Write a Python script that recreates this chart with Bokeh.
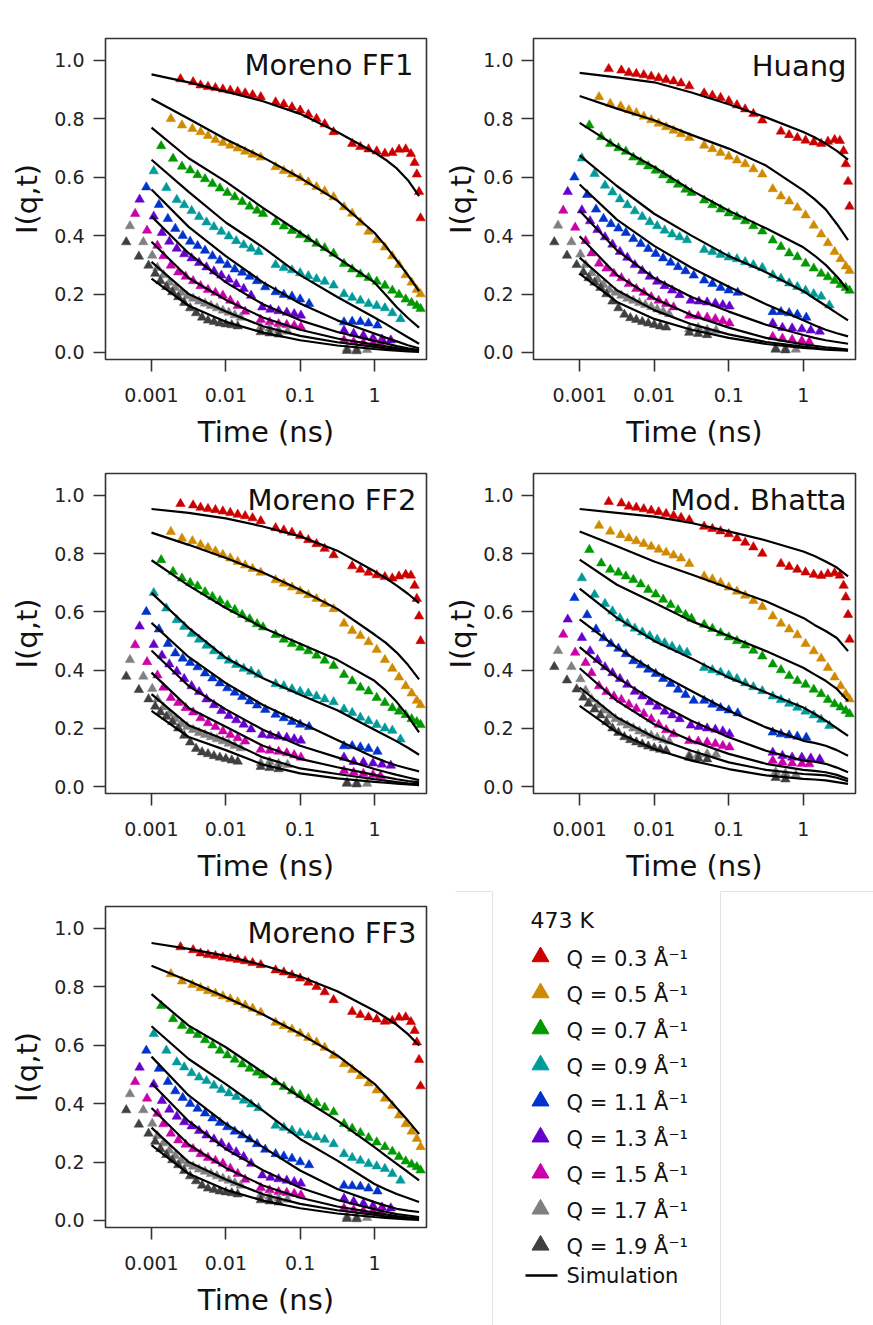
import numpy as np
from bokeh.plotting import figure
from bokeh.layouts import column, row
from bokeh.models import Range1d, FixedTicker, CustomJSTickFormatter, PrintfTickFormatter, Label
from bokeh.core.properties import value
from bokeh.embed import file_html
from bokeh.resources import INLINE

FONT = "DejaVu Sans"

Q_VALUES = ["0.3", "0.5", "0.7", "0.9", "1.1", "1.3", "1.5", "1.7", "1.9"]
Q_COLORS = ["#cc0000", "#d08a00", "#009900", "#009a9a", "#0033cc",
            "#6600cc", "#cc00aa", "#808080", "#404040"]

X_TICKS = [0.001, 0.01, 0.1, 1]
Y_TICKS = [0.0, 0.2, 0.4, 0.6, 0.8, 1.0]

# ---------------- experimental time points, log10(t / ns), per Q ----------------
LOGT_Q03 = [-2.61, -2.44, -2.34, -2.24, -2.14, -2.04, -1.94, -1.84, -1.74, -1.64, -1.53,
            -1.33, -1.22, -1.11, -1.0, -0.89, -0.78, -0.67, -0.55,
            -0.30, -0.19, -0.08, 0.03, 0.14, 0.24, 0.33, 0.42, 0.49, 0.54, 0.57, 0.60, 0.62]
LOGT_Q05 = [-2.74, -2.59, -2.45, -2.34, -2.24, -2.14, -2.04, -1.94, -1.84, -1.74, -1.64, -1.53,
            -1.33, -1.22, -1.11, -1.0, -0.89, -0.78, -0.67, -0.55,
            -0.41, -0.30, -0.19, -0.08, 0.03, 0.14, 0.24, 0.33, 0.42, 0.50, 0.57, 0.62]
LOGT_Q07 = [-2.87, -2.71, -2.59, -2.48, -2.38, -2.28, -2.18, -2.08, -1.98, -1.88, -1.78, -1.68, -1.58, -1.50,
            -1.33, -1.22, -1.11, -1.0, -0.89, -0.78, -0.67, -0.55,
            -0.41, -0.30, -0.19, -0.08, 0.03, 0.14, 0.24, 0.33, 0.42, 0.50, 0.57, 0.62]
LOGT_Q09 = [-2.97, -2.80, -2.66, -2.56, -2.46, -2.36, -2.26, -2.16, -2.06, -1.96, -1.86, -1.76, -1.66, -1.56,
            -1.33, -1.22, -1.11, -1.0, -0.89, -0.78, -0.67, -0.55,
            -0.41, -0.30, -0.19, -0.08, 0.03, 0.14, 0.24, 0.35]
LOGT_Q11 = [-3.07, -2.90, -2.78, -2.68, -2.58, -2.48, -2.38, -2.28, -2.18, -2.08, -1.98, -1.88, -1.78, -1.68, -1.58, -1.47,
            -1.33, -1.22, -1.11, -1.0, -0.88,
            -0.41, -0.30, -0.19, -0.08, 0.04]
LOGT_Q13 = [-3.16, -2.97, -2.86, -2.76, -2.66, -2.56, -2.46, -2.36, -2.26, -2.16, -2.06, -1.96, -1.86, -1.76, -1.66,
            -1.51, -1.40, -1.29, -1.18, -1.08, -0.99,
            -0.41, -0.28, -0.15, -0.02, 0.10, 0.22]
LOGT_Q15 = [-3.22, -3.06, -2.92, -2.84, -2.74, -2.64, -2.54, -2.44, -2.34, -2.24, -2.14, -2.04, -1.94, -1.84, -1.74,
            -1.53, -1.41, -1.29, -1.18, -1.08, -0.99,
            -0.41, -0.28, -0.15, -0.02, 0.08]
LOGT_Q17 = [-3.29, -3.11, -2.99, -2.92, -2.84, -2.76, -2.68, -2.60, -2.52, -2.44, -2.36, -2.28, -2.20, -2.12, -2.04,
            -1.96, -1.88, -1.80,
            -1.53, -1.41, -1.29, -1.17,
            -0.37, -0.24, -0.10]
LOGT_Q19 = [-3.34, -3.17, -3.04, -2.95, -2.88, -2.80, -2.72, -2.64, -2.56, -2.48, -2.40, -2.32, -2.24, -2.16, -2.08,
            -2.00, -1.92, -1.84,
            -1.53, -1.41, -1.29,
            -0.37, -0.24]

# simulation time points, log10(t / ns)
SIM_LOGT = [-3.0, -2.5, -2.0, -1.5, -1.0, -0.5, 0.0, 0.15, 0.3, 0.45, 0.6]

# ---------------- experiment, Moreno FF1 panel ----------------
FF1_Q03 = [0.936, 0.926, 0.915, 0.910, 0.906, 0.901, 0.897, 0.893, 0.888, 0.882, 0.875,
           0.857, 0.850, 0.840, 0.829, 0.815, 0.800, 0.782, 0.755,
           0.715, 0.704, 0.696, 0.689, 0.681, 0.684, 0.695, 0.696, 0.680, 0.650, 0.610, 0.550, 0.460]
FF1_Q05 = [0.800, 0.778, 0.766, 0.755, 0.742, 0.728, 0.718, 0.709, 0.699, 0.688, 0.678, 0.668,
           0.635, 0.622, 0.610, 0.597, 0.583, 0.567, 0.552, 0.532,
           0.498, 0.476, 0.445, 0.414, 0.385, 0.360, 0.330, 0.300, 0.265, 0.240, 0.215, 0.200]
FF1_Q07 = [0.707, 0.664, 0.637, 0.624, 0.608, 0.594, 0.578, 0.562, 0.547, 0.532, 0.516, 0.500, 0.486, 0.475,
           0.447, 0.432, 0.417, 0.402, 0.388, 0.373, 0.358, 0.339,
           0.304, 0.285, 0.268, 0.256, 0.243, 0.229, 0.212, 0.198, 0.182, 0.170, 0.160, 0.150]
FF1_Q09 = [0.621, 0.564, 0.523, 0.505, 0.485, 0.465, 0.446, 0.430, 0.414, 0.398, 0.382, 0.368, 0.356, 0.345,
           0.300, 0.290, 0.282, 0.272, 0.262, 0.252, 0.243, 0.230,
           0.200, 0.188, 0.178, 0.167, 0.160, 0.152, 0.135, 0.115]
FF1_Q11 = [0.566, 0.506, 0.458, 0.424, 0.400, 0.380, 0.365, 0.349, 0.330, 0.315, 0.300, 0.285, 0.274, 0.260, 0.245, 0.224,
           0.207, 0.198, 0.192, 0.182, 0.167,
           0.104, 0.106, 0.105, 0.100, 0.093]
FF1_Q13 = [0.524, 0.466, 0.410, 0.380, 0.356, 0.337, 0.323, 0.307, 0.292, 0.278, 0.264, 0.250, 0.234, 0.218, 0.195,
           0.155, 0.147, 0.142, 0.137, 0.132, 0.127,
           0.075, 0.065, 0.058, 0.050, 0.045, 0.042]
FF1_Q15 = [0.475, 0.418, 0.366, 0.330, 0.298, 0.275, 0.260, 0.245, 0.228, 0.215, 0.205, 0.195, 0.178, 0.160, 0.140,
           0.112, 0.104, 0.098, 0.095, 0.092, 0.087,
           0.042, 0.036, 0.033, 0.032, 0.031]
FF1_Q17 = [0.433, 0.378, 0.332, 0.290, 0.265, 0.240, 0.222, 0.205, 0.193, 0.185, 0.175, 0.168, 0.160, 0.152, 0.144,
           0.137, 0.128, 0.120,
           0.087, 0.082, 0.076, 0.072,
           0.013, 0.010, 0.009]
FF1_Q19 = [0.378, 0.329, 0.298, 0.270, 0.245, 0.225, 0.207, 0.190, 0.170, 0.152, 0.135, 0.120, 0.110, 0.105, 0.100,
           0.097, 0.094, 0.090,
           0.070, 0.066, 0.062,
           0.006, 0.005]

# ---------------- experiment, Huang panel (same normalisation shown in Moreno FF2) ----------------
HUANG_Q03 = [0.971, 0.966, 0.958, 0.954, 0.950, 0.945, 0.940, 0.934, 0.929, 0.922, 0.912,
             0.888, 0.880, 0.872, 0.861, 0.847, 0.833, 0.817, 0.795,
             0.757, 0.745, 0.735, 0.726, 0.720, 0.715, 0.722, 0.728, 0.725, 0.690, 0.645, 0.585, 0.500]
HUANG_Q05 = [0.875, 0.852, 0.843, 0.830, 0.820, 0.808, 0.796, 0.784, 0.772, 0.760, 0.748, 0.735,
             0.709, 0.697, 0.684, 0.671, 0.658, 0.645, 0.628, 0.610,
             0.560, 0.535, 0.518, 0.496, 0.470, 0.435, 0.405, 0.375, 0.345, 0.320, 0.295, 0.280]
HUANG_Q07 = [0.778, 0.738, 0.715, 0.700, 0.688, 0.668, 0.652, 0.638, 0.623, 0.607, 0.590, 0.575, 0.558, 0.547,
             0.521, 0.505, 0.490, 0.477, 0.465, 0.450, 0.433, 0.415,
             0.384, 0.362, 0.340, 0.327, 0.305, 0.288, 0.270, 0.258, 0.246, 0.232, 0.222, 0.212]
HUANG_Q09 = [0.665, 0.612, 0.572, 0.549, 0.525, 0.505, 0.484, 0.465, 0.447, 0.433, 0.418, 0.405, 0.395, 0.385,
             0.352, 0.345, 0.335, 0.326, 0.320, 0.310, 0.300, 0.290,
             0.265, 0.253, 0.237, 0.225, 0.212, 0.200, 0.192, 0.162]
HUANG_Q11 = [0.600, 0.540, 0.490, 0.458, 0.440, 0.425, 0.410, 0.389, 0.372, 0.355, 0.338, 0.323, 0.308, 0.293, 0.279, 0.264,
             0.247, 0.235, 0.222, 0.213, 0.205,
             0.139, 0.139, 0.135, 0.130, 0.120]
HUANG_Q13 = [0.550, 0.487, 0.450, 0.420, 0.395, 0.370, 0.345, 0.325, 0.300, 0.280, 0.260, 0.243, 0.228, 0.213, 0.197,
             0.178, 0.175, 0.172, 0.168, 0.163, 0.158,
             0.100, 0.085, 0.083, 0.080, 0.076, 0.072]
HUANG_Q15 = [0.486, 0.428, 0.382, 0.340, 0.305, 0.288, 0.270, 0.255, 0.235, 0.218, 0.205, 0.190, 0.178, 0.167, 0.155,
             0.127, 0.124, 0.120, 0.115, 0.108, 0.100,
             0.054, 0.048, 0.044, 0.040, 0.036]
HUANG_Q17 = [0.435, 0.378, 0.336, 0.300, 0.272, 0.250, 0.232, 0.215, 0.205, 0.195, 0.185, 0.178, 0.170, 0.163, 0.156,
             0.148, 0.140, 0.132,
             0.080, 0.085, 0.078, 0.075,
             0.014, 0.012, 0.010]
HUANG_Q19 = [0.378, 0.332, 0.300, 0.275, 0.255, 0.240, 0.222, 0.200, 0.175, 0.152, 0.130, 0.118, 0.112, 0.105, 0.100,
             0.095, 0.090, 0.086,
             0.068, 0.064, 0.060,
             0.010, 0.008]

# ---------------- experiment, Mod. Bhatta panel ----------------
BHATTA_Q03 = [0.978, 0.973, 0.962, 0.958, 0.953, 0.948, 0.943, 0.937, 0.930, 0.923, 0.915,
              0.893, 0.885, 0.877, 0.867, 0.853, 0.838, 0.822, 0.800,
              0.765, 0.755, 0.745, 0.736, 0.728, 0.724, 0.730, 0.733, 0.725, 0.690, 0.650, 0.590, 0.505]
BHATTA_Q05 = [0.896, 0.876, 0.864, 0.853, 0.843, 0.834, 0.824, 0.814, 0.804, 0.794, 0.784, 0.765,
              0.722, 0.712, 0.700, 0.684, 0.670, 0.656, 0.638, 0.617,
              0.585, 0.560, 0.540, 0.520, 0.490, 0.465, 0.440, 0.408, 0.375, 0.345, 0.318, 0.300]
BHATTA_Q07 = [0.813, 0.767, 0.745, 0.735, 0.722, 0.710, 0.695, 0.676, 0.660, 0.642, 0.624, 0.606, 0.590, 0.577,
              0.556, 0.542, 0.527, 0.513, 0.500, 0.485, 0.467, 0.447,
              0.420, 0.400, 0.380, 0.363, 0.350, 0.333, 0.318, 0.298, 0.283, 0.272, 0.260, 0.249]
BHATTA_Q09 = [0.716, 0.659, 0.628, 0.602, 0.578, 0.560, 0.543, 0.530, 0.517, 0.505, 0.493, 0.481, 0.470, 0.460,
              0.408, 0.400, 0.392, 0.382, 0.370, 0.355, 0.342, 0.328,
              0.310, 0.298, 0.285, 0.271, 0.258, 0.245, 0.230, 0.209]
BHATTA_Q11 = [0.648, 0.589, 0.540, 0.510, 0.490, 0.474, 0.455, 0.431, 0.417, 0.402, 0.387, 0.370, 0.353, 0.333, 0.315, 0.295,
              0.295, 0.282, 0.270, 0.262, 0.252,
              0.186, 0.180, 0.176, 0.172, 0.168]
BHATTA_Q13 = [0.574, 0.511, 0.465, 0.435, 0.410, 0.390, 0.370, 0.350, 0.326, 0.310, 0.290, 0.275, 0.258, 0.245, 0.232,
              0.210, 0.205, 0.200, 0.196, 0.190, 0.180,
              0.117, 0.106, 0.100, 0.100, 0.097, 0.094]
BHATTA_Q15 = [0.522, 0.460, 0.425, 0.390, 0.345, 0.325, 0.310, 0.298, 0.282, 0.267, 0.250, 0.232, 0.213, 0.194, 0.180,
              0.157, 0.155, 0.152, 0.147, 0.140, 0.135,
              0.089, 0.083, 0.080, 0.078, 0.077]
BHATTA_Q17 = [0.466, 0.411, 0.369, 0.330, 0.300, 0.280, 0.262, 0.245, 0.232, 0.220, 0.210, 0.200, 0.190, 0.182, 0.175,
              0.168, 0.160, 0.155,
              0.108, 0.110, 0.112, 0.110,
              0.050, 0.045, 0.040]
BHATTA_Q19 = [0.411, 0.365, 0.334, 0.306, 0.285, 0.265, 0.245, 0.222, 0.200, 0.185, 0.170, 0.160, 0.152, 0.145, 0.138,
              0.132, 0.127, 0.123,
              0.100, 0.097, 0.094,
              0.030, 0.025]

# ---------------- experiment, Moreno FF3 panel (other Q as in FF1) ----------------
FF3_Q05 = [0.844, 0.819, 0.807, 0.796, 0.786, 0.777, 0.768, 0.758, 0.748, 0.737, 0.726, 0.712,
           0.678, 0.666, 0.654, 0.640, 0.626, 0.610, 0.592, 0.565,
           0.536, 0.516, 0.495, 0.470, 0.446, 0.418, 0.393, 0.360, 0.330, 0.305, 0.280, 0.252]
FF3_Q07 = [0.735, 0.690, 0.667, 0.650, 0.636, 0.618, 0.600, 0.582, 0.566, 0.551, 0.535, 0.520, 0.507, 0.497,
           0.473, 0.458, 0.443, 0.430, 0.416, 0.402, 0.387, 0.371,
           0.331, 0.315, 0.300, 0.283, 0.268, 0.252, 0.236, 0.218, 0.203, 0.192, 0.183, 0.172]
FF3_Q09 = [0.639, 0.582, 0.542, 0.525, 0.505, 0.490, 0.478, 0.462, 0.448, 0.436, 0.424, 0.411, 0.398, 0.385,
           0.325, 0.318, 0.308, 0.300, 0.292, 0.285, 0.277, 0.262,
           0.228, 0.215, 0.205, 0.194, 0.186, 0.177, 0.160, 0.137]
FF3_Q11 = [0.582, 0.520, 0.475, 0.443, 0.420, 0.400, 0.383, 0.367, 0.350, 0.335, 0.320, 0.305, 0.292, 0.278, 0.262, 0.243,
           0.228, 0.220, 0.212, 0.200, 0.190,
           0.120, 0.118, 0.116, 0.110, 0.100]

# ---------------- simulations (values at SIM_LOGT) ----------------
SIM_FF1_Q03 = [0.952, 0.925, 0.893, 0.860, 0.817, 0.755, 0.685, 0.660, 0.630, 0.590, 0.535]
SIM_FF1_Q05 = [0.869, 0.800, 0.730, 0.668, 0.598, 0.520, 0.410, 0.365, 0.315, 0.265, 0.210]
SIM_FF1_Q07 = [0.770, 0.665, 0.585, 0.495, 0.410, 0.325, 0.240, 0.198, 0.155, 0.118, 0.085]
SIM_FF1_Q09 = [0.660, 0.550, 0.445, 0.360, 0.265, 0.190, 0.120, 0.098, 0.075, 0.052, 0.030]
SIM_FF1_Q11 = [0.558, 0.430, 0.330, 0.240, 0.168, 0.110, 0.065, 0.051, 0.038, 0.025, 0.014]
SIM_FF1_Q13 = [0.466, 0.340, 0.240, 0.165, 0.110, 0.070, 0.040, 0.031, 0.022, 0.014, 0.008]
SIM_FF1_Q15 = [0.379, 0.255, 0.180, 0.120, 0.078, 0.048, 0.027, 0.021, 0.015, 0.010, 0.006]
SIM_FF1_Q17 = [0.310, 0.200, 0.140, 0.090, 0.057, 0.035, 0.019, 0.014, 0.010, 0.007, 0.005]
SIM_FF1_Q19 = [0.253, 0.160, 0.105, 0.068, 0.042, 0.024, 0.012, 0.009, 0.006, 0.004, 0.002]

SIM_HUANG_Q03 = [0.957, 0.942, 0.925, 0.890, 0.850, 0.805, 0.755, 0.737, 0.715, 0.690, 0.660]
SIM_HUANG_Q05 = [0.878, 0.835, 0.795, 0.745, 0.698, 0.640, 0.555, 0.525, 0.490, 0.440, 0.385]
SIM_HUANG_Q07 = [0.786, 0.705, 0.635, 0.555, 0.485, 0.425, 0.360, 0.332, 0.300, 0.260, 0.213]
SIM_HUANG_Q09 = [0.675, 0.570, 0.475, 0.400, 0.330, 0.275, 0.210, 0.185, 0.160, 0.135, 0.110]
SIM_HUANG_Q11 = [0.575, 0.455, 0.365, 0.290, 0.225, 0.165, 0.110, 0.093, 0.078, 0.066, 0.055]
SIM_HUANG_Q13 = [0.485, 0.350, 0.255, 0.190, 0.140, 0.095, 0.060, 0.050, 0.042, 0.036, 0.030]
SIM_HUANG_Q15 = [0.398, 0.265, 0.185, 0.128, 0.085, 0.050, 0.028, 0.023, 0.018, 0.014, 0.010]
SIM_HUANG_Q17 = [0.325, 0.213, 0.145, 0.097, 0.062, 0.036, 0.020, 0.016, 0.012, 0.010, 0.008]
SIM_HUANG_Q19 = [0.270, 0.173, 0.115, 0.078, 0.050, 0.029, 0.016, 0.013, 0.010, 0.008, 0.006]

SIM_FF2_Q03 = [0.953, 0.940, 0.921, 0.893, 0.859, 0.810, 0.739, 0.716, 0.690, 0.662, 0.630]
SIM_FF2_Q05 = [0.872, 0.830, 0.785, 0.735, 0.676, 0.610, 0.522, 0.494, 0.460, 0.418, 0.368]
SIM_FF2_Q07 = [0.777, 0.690, 0.613, 0.545, 0.490, 0.435, 0.363, 0.330, 0.290, 0.242, 0.186]
SIM_FF2_Q09 = [0.665, 0.545, 0.442, 0.372, 0.315, 0.262, 0.195, 0.175, 0.155, 0.133, 0.109]
SIM_FF2_Q11 = [0.562, 0.445, 0.355, 0.280, 0.220, 0.160, 0.100, 0.085, 0.072, 0.062, 0.052]
SIM_FF2_Q13 = [0.467, 0.345, 0.265, 0.195, 0.140, 0.100, 0.060, 0.050, 0.040, 0.031, 0.022]
SIM_FF2_Q15 = [0.391, 0.270, 0.205, 0.140, 0.095, 0.066, 0.040, 0.032, 0.025, 0.019, 0.014]
SIM_FF2_Q17 = [0.317, 0.210, 0.160, 0.100, 0.062, 0.043, 0.025, 0.020, 0.015, 0.011, 0.008]
SIM_FF2_Q19 = [0.260, 0.170, 0.125, 0.075, 0.045, 0.028, 0.016, 0.013, 0.010, 0.007, 0.005]

SIM_BHATTA_Q03 = [0.953, 0.940, 0.927, 0.905, 0.876, 0.845, 0.807, 0.792, 0.773, 0.752, 0.722]
SIM_BHATTA_Q05 = [0.876, 0.825, 0.773, 0.728, 0.682, 0.636, 0.579, 0.555, 0.534, 0.510, 0.465]
SIM_BHATTA_Q07 = [0.779, 0.693, 0.631, 0.568, 0.517, 0.465, 0.408, 0.385, 0.363, 0.335, 0.294]
SIM_BHATTA_Q09 = [0.680, 0.579, 0.500, 0.440, 0.374, 0.323, 0.271, 0.250, 0.226, 0.200, 0.174]
SIM_BHATTA_Q11 = [0.574, 0.477, 0.397, 0.328, 0.260, 0.203, 0.157, 0.150, 0.140, 0.125, 0.106]
SIM_BHATTA_Q13 = [0.479, 0.374, 0.294, 0.226, 0.169, 0.123, 0.089, 0.085, 0.078, 0.065, 0.049]
SIM_BHATTA_Q15 = [0.406, 0.294, 0.214, 0.157, 0.112, 0.078, 0.057, 0.054, 0.049, 0.040, 0.026]
SIM_BHATTA_Q17 = [0.340, 0.237, 0.169, 0.123, 0.083, 0.057, 0.043, 0.041, 0.038, 0.030, 0.018]
SIM_BHATTA_Q19 = [0.277, 0.186, 0.129, 0.089, 0.060, 0.038, 0.026, 0.024, 0.021, 0.015, 0.009]

SIM_FF3_Q03 = [0.950, 0.930, 0.906, 0.874, 0.835, 0.785, 0.718, 0.695, 0.670, 0.638, 0.599]
SIM_FF3_Q05 = [0.872, 0.820, 0.764, 0.705, 0.639, 0.565, 0.468, 0.428, 0.385, 0.342, 0.296]
SIM_FF3_Q07 = [0.775, 0.667, 0.593, 0.507, 0.422, 0.342, 0.251, 0.222, 0.194, 0.166, 0.137]
SIM_FF3_Q09 = [0.665, 0.553, 0.467, 0.376, 0.279, 0.205, 0.125, 0.107, 0.091, 0.077, 0.063]
SIM_FF3_Q11 = [0.561, 0.428, 0.331, 0.251, 0.171, 0.108, 0.063, 0.051, 0.040, 0.034, 0.029]
SIM_FF3_Q13 = [0.470, 0.340, 0.245, 0.172, 0.112, 0.070, 0.039, 0.030, 0.022, 0.017, 0.012]
SIM_FF3_Q15 = [0.385, 0.260, 0.180, 0.120, 0.078, 0.048, 0.027, 0.021, 0.015, 0.011, 0.007]
SIM_FF3_Q17 = [0.318, 0.200, 0.140, 0.090, 0.057, 0.035, 0.019, 0.014, 0.010, 0.007, 0.005]
SIM_FF3_Q19 = [0.258, 0.160, 0.105, 0.068, 0.042, 0.024, 0.012, 0.009, 0.006, 0.004, 0.002]

EXP_LOGT = [LOGT_Q03, LOGT_Q05, LOGT_Q07, LOGT_Q09, LOGT_Q11, LOGT_Q13, LOGT_Q15, LOGT_Q17, LOGT_Q19]

EXP_FF1 = [FF1_Q03, FF1_Q05, FF1_Q07, FF1_Q09, FF1_Q11, FF1_Q13, FF1_Q15, FF1_Q17, FF1_Q19]
EXP_HUANG = [HUANG_Q03, HUANG_Q05, HUANG_Q07, HUANG_Q09, HUANG_Q11, HUANG_Q13, HUANG_Q15, HUANG_Q17, HUANG_Q19]
EXP_BHATTA = [BHATTA_Q03, BHATTA_Q05, BHATTA_Q07, BHATTA_Q09, BHATTA_Q11, BHATTA_Q13, BHATTA_Q15, BHATTA_Q17, BHATTA_Q19]
EXP_FF3 = [FF1_Q03, FF3_Q05, FF3_Q07, FF3_Q09, FF3_Q11, FF1_Q13, FF1_Q15, FF1_Q17, FF1_Q19]

SIM_FF1 = [SIM_FF1_Q03, SIM_FF1_Q05, SIM_FF1_Q07, SIM_FF1_Q09, SIM_FF1_Q11, SIM_FF1_Q13, SIM_FF1_Q15, SIM_FF1_Q17, SIM_FF1_Q19]
SIM_HUANG = [SIM_HUANG_Q03, SIM_HUANG_Q05, SIM_HUANG_Q07, SIM_HUANG_Q09, SIM_HUANG_Q11, SIM_HUANG_Q13, SIM_HUANG_Q15, SIM_HUANG_Q17, SIM_HUANG_Q19]
SIM_FF2 = [SIM_FF2_Q03, SIM_FF2_Q05, SIM_FF2_Q07, SIM_FF2_Q09, SIM_FF2_Q11, SIM_FF2_Q13, SIM_FF2_Q15, SIM_FF2_Q17, SIM_FF2_Q19]
SIM_BHATTA = [SIM_BHATTA_Q03, SIM_BHATTA_Q05, SIM_BHATTA_Q07, SIM_BHATTA_Q09, SIM_BHATTA_Q11, SIM_BHATTA_Q13, SIM_BHATTA_Q15, SIM_BHATTA_Q17, SIM_BHATTA_Q19]
SIM_FF3 = [SIM_FF3_Q03, SIM_FF3_Q05, SIM_FF3_Q07, SIM_FF3_Q09, SIM_FF3_Q11, SIM_FF3_Q13, SIM_FF3_Q15, SIM_FF3_Q17, SIM_FF3_Q19]


def make_panel(title, exp_sets, sim_sets, width, height, left, right, top, bottom, tx, ty,
               ylab_standoff, ytitle_standoff):
    p = figure(width=width, height=height, x_axis_type="log",
               x_range=Range1d(10 ** -3.619, 10 ** 0.70), y_range=Range1d(-0.024, 1.075),
               toolbar_location=None, output_backend="svg",
               min_border_left=left, min_border_right=right,
               min_border_top=top, min_border_bottom=bottom)
    p.background_fill_color = "white"
    p.border_fill_color = "white"
    p.grid.visible = False
    p.outline_line_color = "#333333"
    p.outline_line_width = 1.6
    p.outline_line_alpha = 1.0

    for logt, ys, color in zip(EXP_LOGT, exp_sets, Q_COLORS):
        p.scatter(10 ** np.array(logt), ys, marker="triangle", size=9.5,
                  fill_color=color, line_color=color, line_width=0.5)
    sim_t = 10 ** np.array(SIM_LOGT)
    for ys in sim_sets:
        p.line(sim_t, ys, line_color="black", line_width=2.2)

    p.xaxis.ticker = FixedTicker(ticks=X_TICKS, minor_ticks=[])
    p.xaxis.formatter = CustomJSTickFormatter(code="return tick.toString()")
    p.yaxis.ticker = FixedTicker(ticks=Y_TICKS, minor_ticks=[])
    p.yaxis.formatter = PrintfTickFormatter(format="%.1f")
    for ax in (p.xaxis, p.yaxis):
        ax.axis_line_color = None
        ax.major_tick_line_color = "#333333"
        ax.major_tick_line_width = 1.6
        ax.major_tick_out = 12
        ax.major_tick_in = 0
        ax.minor_tick_line_color = None
        ax.major_label_text_font = FONT
        ax.major_label_text_font_size = "19px"
        ax.major_label_text_color = "#222222"
        ax.axis_label_text_font = FONT
        ax.axis_label_text_font_size = "29px"
        ax.axis_label_text_font_style = "normal"
        ax.axis_label_text_color = "#111111"
    p.xaxis.axis_label = "Time (ns)"
    p.xaxis.major_label_standoff = 16
    p.xaxis.axis_label_standoff = 10
    p.yaxis.axis_label = "I(q,t)"
    p.yaxis.major_label_standoff = ylab_standoff
    p.yaxis.axis_label_standoff = ytitle_standoff

    p.add_layout(Label(x=tx, y=ty, x_units="screen", y_units="screen", text=title,
                       text_align="right", text_baseline="alphabetic",
                       text_font=FONT, text_font_size="29px", text_color="#111111"))
    return p


p1 = make_panel("Moreno FF1", EXP_FF1, SIM_FF1, 440, 453, 105, 14, 38, 94, 308, 295, 9, 7)
p2 = make_panel("Huang", EXP_HUANG, SIM_HUANG, 433, 453, 93, 18, 38, 94, 313, 294, 8, 2)
p3 = make_panel("Moreno FF2", EXP_HUANG, SIM_FF2, 440, 437, 105, 14, 20, 97, 311, 294, 9, 7)
p4 = make_panel("Mod. Bhatta", EXP_BHATTA, SIM_BHATTA, 433, 437, 93, 18, 20, 97, 313, 294, 8, 2)
p5 = make_panel("Moreno FF3", EXP_FF3, SIM_FF3, 440, 435, 105, 14, 16, 98, 311, 295, 9, 7)

# ---------------- legend panel (data x / y = pixels from the panel's left / top) ----------------
leg = figure(width=433, height=435, x_range=Range1d(93, 415), y_range=Range1d(435, 0),
             min_border_left=93, min_border_right=18, min_border_top=0, min_border_bottom=0,
             toolbar_location=None, output_backend="svg",
             x_axis_location=None, y_axis_location=None)
leg.outline_line_color = None
leg.grid.visible = False
leg.background_fill_color = "white"
leg.border_fill_color = "white"

# faint panel borders of the original composite
leg.segment(x0=[52, 280, 15, 280], y0=[1, 1, 1, 1], x1=[52, 280, 52, 433], y1=[435, 435, 1, 1],
            line_color="#e4e4e4", line_width=1, level="overlay")

legend_labels = ["Q = %s Å⁻¹" % q for q in Q_VALUES]
row_y = [68.3 + 36.05 * i for i in range(len(Q_VALUES))]
leg.scatter(x=[100] * len(Q_VALUES), y=[y - 2 for y in row_y], marker="triangle", size=17,
            fill_color=Q_COLORS, line_color=Q_COLORS, level="overlay")
leg.text(x=[126] * len(Q_VALUES), y=row_y, text=legend_labels, text_font=value(FONT),
         text_font_size="21px", text_baseline="middle", text_align="left", text_color="#111111",
         level="overlay")
leg.text(x=[90], y=[30], text=["473 K"], text_font=value(FONT), text_font_size="22px",
         text_baseline="middle", text_align="left", text_color="#111111", level="overlay")
leg.line(x=[85, 117], y=[385, 385], line_color="black", line_width=2.5, level="overlay")
leg.text(x=[126], y=[385], text=["Simulation"], text_font=value(FONT), text_font_size="21px",
         text_baseline="middle", text_align="left", text_color="#111111", level="overlay")

layout = row(column(p1, p3, p5), column(p2, p4, leg))

open("out.html", "w").write(file_html(layout, INLINE))
